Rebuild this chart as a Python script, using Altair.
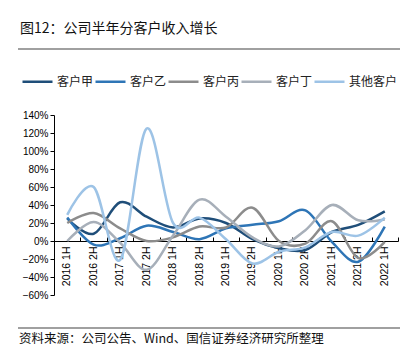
import altair as alt
import pandas as pd

categories = ["2016 1H", "2016 2H", "2017 1H", "2017 2H", "2018 1H", "2018 2H",
              "2019 1H", "2019 2H", "2020 1H", "2020 2H", "2021 1H", "2021 2H", "2022 1H"]
series_names = ["客户甲", "客户乙", "客户丙", "客户丁", "其他客户"]
s_jia = [25, 8, 43, 27, 15, 25, 20, 2, -8, -10, 10, 18, 33]
s_yi = [26, -4, 3, 17, 10, 2, 14, 18, 22, 34, -1, -23, 16]
s_bing = [20, 31, 14, 0, 4, 16, 15, 37, 0, -3, 22, -19, -1]
s_ding = [0, 21, -2, -32, 6, 46, 27, 4, -6, 12, 40, 23, 24]
s_other = [29, 60, -21, 125, 20, 26, 2, -25, -12, -7, 10, 6, 26]
colors = ["#1F4E79", "#2E75B6", "#8C8C8C", "#A7AFB9", "#9DC3E6"]
y_ticks = [-60, -40, -20, 0, 20, 40, 60, 80, 100, 120, 140]

title_text = "图12：公司半年分客户收入增长"
source_text = "资料来源：公司公告、Wind、国信证券经济研究所整理"

rows = []
for name, vals in zip(series_names, [s_jia, s_yi, s_bing, s_ding, s_other]):
    for c, v in zip(categories, vals):
        rows.append({"cat": c, "series": name, "value": v})
df = pd.DataFrame(rows)

W, H = 344, 180
LBL = "Liberation Sans"
CJK = "Noto Sans CJK SC"

xscale = alt.Scale(type="band", domain=categories, paddingInner=0, paddingOuter=0)

lines = alt.Chart(df).mark_line(interpolate="cardinal", strokeWidth=2.5).encode(
    x=alt.X("cat:N", sort=categories, scale=xscale, bandPosition=0.5,
            axis=alt.Axis(orient="bottom", offset=-54, domain=False, ticks=False,
                          labelAngle=-90, labelPadding=5, labelFont=LBL, labelFontSize=10.5,
                          labelColor="black", title=None, labelOverlap=False)),
    y=alt.Y("value:Q", scale=alt.Scale(domain=[-60, 140], nice=False, zero=False),
            axis=alt.Axis(values=y_ticks, labelExpr="format(datum.value, 'd') + '%'",
                          grid=False, title=None, domainColor="black", tickColor="black",
                          tickSize=4, labelFont=LBL, labelFontSize=10, labelColor="black",
                          labelPadding=2)),
    color=alt.Color("series:N", sort=series_names,
                    scale=alt.Scale(domain=series_names, range=colors),
                    legend=alt.Legend(orient="none", legendX=-33, legendY=-50,
                                      direction="horizontal", title=None,
                                      symbolType="stroke", symbolSize=900,
                                      symbolStrokeWidth=2.5, labelFont=CJK,
                                      labelFontSize=12, labelColor="#222",
                                      labelOffset=3, columnPadding=-11, padding=0)),
    order=alt.Order("series_idx:Q"),
).transform_calculate(
    series_idx="indexof(" + str(series_names).replace("'", '"') + ", datum.series)"
)

zero_axis = alt.Chart(df).mark_tick(opacity=0).encode(
    x=alt.X("cat:N", sort=categories, scale=xscale, bandPosition=0.5,
            axis=alt.Axis(orient="top", offset=-126, labels=False, title=None,
                          tickBand="extent", tickSize=4, tickColor="black",
                          domainColor="black", domainWidth=1, tickWidth=1)),
)

title_df = pd.DataFrame({"t": [title_text]})
source_df = pd.DataFrame({"t": [source_text]})

title_mark = alt.Chart(title_df).mark_text(
    align="left", baseline="alphabetic", font=CJK, fontSize=14, color="#111"
).encode(x=alt.value(-34), y=alt.value(-82), text="t:N")

source_mark = alt.Chart(source_df).mark_text(
    align="left", baseline="middle", font=CJK, fontSize=12.5, color="#111"
).encode(x=alt.value(-35), y=alt.value(224), text="t:N")

rule_top = alt.Chart(title_df).mark_rule(color="#808080", strokeWidth=1.5).encode(
    x=alt.value(-36), x2=alt.value(346), y=alt.value(-66))
rule_bottom = alt.Chart(title_df).mark_rule(color="#808080", strokeWidth=1.5).encode(
    x=alt.value(-36), x2=alt.value(346), y=alt.value(213))

chart = alt.layer(lines, zero_axis, title_mark, source_mark, rule_top, rule_bottom).resolve_axis(
    x="independent"
).properties(
    width=W, height=H,
    autosize=alt.AutoSizeParams(type="none"),
    padding={"left": 46, "top": 107, "right": 5, "bottom": 55},
).configure_view(stroke=None)

chart.save("out.html", embed_options={"renderer": "svg", "actions": False})
